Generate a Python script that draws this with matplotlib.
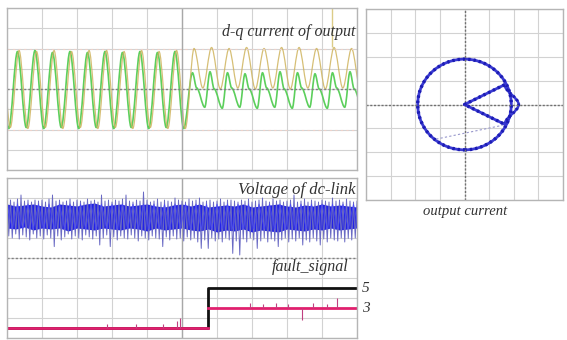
import numpy as np
import matplotlib
matplotlib.use("Agg")
import matplotlib.pyplot as plt
from matplotlib.path import Path
from matplotlib.patches import PathPatch, Circle
import matplotlib.transforms as mtransforms

# ---------------- data (in scope divisions) ----------------
# top panel: key extreme points of the d-q currents (times at -0.2 + 0.25*i)
yellow_vals = [1.85, -1.9, 1.9, -1.95, 1.85, -1.9, 1.9, -1.95, 1.85, -1.9, 1.9,
               -1.95, 1.9, -1.9, 1.85, -1.95, 1.9, -1.9, 1.85, -1.95, 1.9, -1.95,
               2.0, 0.05, 2.05, 0.0, 2.0, 0.05, 2.05, 0.0, 2.0, 0.05, 2.05, 0.0,
               2.05, 0.05, 2.0, 0.0, 2.05, 0.05, 2.0, 0.0]
green_pre_vals = [1.8, -1.95, 1.85, -1.9, 1.9, -1.95, 1.8, -1.9, 1.85, -1.95, 1.8,
                  -1.9, 1.85, -1.95, 1.8, -1.9, 1.85, -1.95, 1.8, -1.9, 1.85, -1.95]
green_post_peaks = [0.8, 0.85, 0.8, 0.75, 0.8, 0.85, 0.8, 0.75, 0.8, 0.85]
green_post_shoulders = [0.05, 0.0, 0.05, 0.0, 0.05, 0.0, 0.05, 0.0, 0.05, 0.0]
green_post_troughs = [-0.9, -0.95, -0.9, -0.95, -0.9, -0.95, -0.9, -0.95, -0.9, -0.95]
yellow_spike = (9.28, 2.05, 4.0)

# bottom panel: dc-link voltage band and fringe
core_top = [6.7, 6.6, 6.65, 6.7, 6.6, 6.55, 6.7, 6.65, 6.6, 6.7, 6.75, 6.6, 6.65, 6.7,
            6.6, 6.65, 6.7, 6.6, 6.55, 6.65, 6.7, 6.6, 6.7, 6.55, 6.6, 6.65, 6.6, 6.7,
            6.55, 6.6, 6.65, 6.7, 6.6, 6.55, 6.65, 6.6, 6.7, 6.6, 6.65, 6.6, 6.55]
core_bot = [5.5, 5.45, 5.55, 5.4, 5.5, 5.45, 5.5, 5.35, 5.5, 5.45, 5.4, 5.5, 5.45, 5.4,
            5.5, 5.45, 5.35, 5.5, 5.4, 5.45, 5.5, 5.4, 5.35, 5.45, 5.3, 5.4, 5.35, 5.45,
            5.3, 5.4, 5.35, 5.3, 5.45, 5.4, 5.35, 5.45, 5.4, 5.5, 5.4, 5.45, 5.5]
fringe_hi = [6.85, 6.9, 6.8, 6.95, 7.15, 6.85, 6.9, 6.8, 6.9, 6.85,
             6.9, 6.8, 6.95, 7.15, 6.85, 6.9, 6.8, 6.85, 6.95, 6.8,
             6.9, 6.85, 6.8, 6.95, 6.85, 6.9, 6.8, 7.15, 6.85, 6.9,
             6.8, 6.9, 6.85, 6.95, 7.15, 6.85, 6.8, 6.9, 6.85, 7.3,
             6.9, 6.8, 6.85, 6.95, 6.8, 6.9, 6.85, 6.8, 7.0, 6.9,
             6.85, 6.8, 6.95, 6.85, 6.9, 7.0, 6.8, 6.85, 6.9, 6.8,
             6.85, 6.95, 6.8, 6.9, 6.9, 6.85, 6.8, 6.9, 6.85, 6.95,
             6.8, 6.85, 6.9, 7.0, 6.85, 6.8, 6.95, 6.85, 6.9, 6.8,
             6.85, 6.9, 7.15, 6.8, 6.85, 6.95, 6.8, 6.9, 6.85, 6.8,
             6.9, 6.85, 6.8, 7.0, 6.85, 6.9, 6.8, 6.95, 6.85, 6.8, 6.85]
fringe_lo = [5.1, 5.0, 5.2, 4.95, 5.15, 5.05, 4.9, 5.2, 5.0, 5.1,
             4.95, 5.15, 5.0, 4.57, 5.1, 4.9, 5.05, 5.2, 4.95, 5.1,
             5.0, 4.9, 5.15, 5.05, 4.95, 5.1, 4.65, 5.0, 5.15, 4.57,
             5.05, 4.9, 5.1, 5.0, 4.95, 5.15, 5.0, 4.85, 5.1, 5.0,
             4.9, 5.1, 5.0, 4.95, 4.57, 5.05, 4.9, 5.1, 4.95, 5.0,
             4.85, 5.05, 4.9, 5.0, 4.8, 4.48, 4.9, 4.48, 5.0, 4.85,
             4.95, 4.8, 5.0, 4.9, 4.23, 4.85, 4.15, 4.95, 4.8, 5.0,
             4.9, 4.48, 4.85, 5.0, 4.8, 4.95, 4.85, 4.57, 4.9, 5.0,
             4.8, 4.95, 4.85, 5.0, 4.65, 4.9, 4.8, 5.0, 4.85, 4.65,
             4.95, 4.8, 5.0, 4.9, 4.85, 5.0, 4.8, 4.98, 4.9, 5.0, 4.95]

# bottom panel: fault signals
fault_time = 5.74
black_levels = [0.5, 2.5]
pink_levels = [0.5, 1.5]
pink_spike_t = [2.85, 3.7, 4.47, 4.85, 4.94, 6.94, 7.31, 7.7, 8.03, 8.42, 8.74, 9.13, 9.42]
pink_spike_v = [0.7, 0.7, 0.7, 0.85, 0.98, 1.75, 1.72, 1.75, 1.72, 0.9, 1.75, 1.72, 2.0]
level_labels = ["5", "3"]

# right panel: output current trajectory
circle_radius = 1.9
bulge_x = [1.63, 2.2, 1.63]
bulge_y = [0.83, 0.0, -0.83]
wedge_x = [1.63, 0.0, 1.63]
wedge_y = [0.83, 0.0, -0.83]
faint_x = [-1.15, 1.55]
faint_y = [-1.45, -0.87]

# ---------------- figure ----------------
W, H = 567, 340
fig = plt.figure(figsize=(W / 100, H / 100), dpi=100)
fig.patch.set_facecolor("white")

def px_axes(x0, y0, x1, y1):
    return fig.add_axes([x0 / W, 1 - y1 / H, (x1 - x0) / W, (y1 - y0) / H])

ax_top = px_axes(7, 8, 357, 170)
ax_bot = px_axes(7, 178, 357, 338)
ax_xy = px_axes(366, 9, 563, 200)

GRID = "#d2d2d2"
FRAME = "#b5b5b5"
TXT = "#333333"
serif = dict(family=["Liberation Serif", "DejaVu Serif"], style="italic", color=TXT)

def scope(ax, xr, yr, nx, ny):
    ax.set_xlim(*xr)
    ax.set_ylim(*yr)
    ax.set_xticks(np.linspace(xr[0], xr[1], nx + 1))
    ax.set_yticks(np.linspace(yr[0], yr[1], ny + 1))
    ax.tick_params(length=0, labelbottom=False, labelleft=False)
    ax.grid(True, color=GRID, lw=0.8)
    ax.set_axisbelow(True)
    for s in ax.spines.values():
        s.set_color(FRAME)
        s.set_linewidth(1.0)

def smooth_path(ts, vs, swap=False):
    pts = [(ts[0], vs[0])]
    codes = [Path.MOVETO]
    for i in range(len(ts) - 1):
        t0, v0, t1, v1 = ts[i], vs[i], ts[i + 1], vs[i + 1]
        d = (t1 - t0) / 3.0
        pts += [(t0 + d, v0), (t1 - d, v1), (t1, v1)]
        codes += [Path.CURVE4] * 3
    if swap:
        pts = [(b, a) for a, b in pts]
    return Path(pts, codes)

# ---- top panel ----
scope(ax_top, (0, 10), (-4, 4), 10, 8)
ax_top.axhline(0, color="#808080", lw=1.0, ls=(0, (1.5, 1.5)))
for yv in (2, -2):
    ax_top.axhline(yv, color="#ecd0c8", lw=0.8, ls=(0, (2, 3)))
ax_top.axvline(5, color="#a8a8a8", lw=1.0)

y_times = [-0.2 + 0.25 * i for i in range(len(yellow_vals))]
g_t = y_times[:len(green_pre_vals)]
g_v = list(green_pre_vals)
for k in range(len(green_post_peaks)):
    base = 5.3 + 0.5 * k
    g_t += [base, base + 0.12, base + 0.35]
    g_v += [green_post_peaks[k], green_post_shoulders[k], green_post_troughs[k]]
ax_top.add_patch(PathPatch(smooth_path(g_t, g_v), fill=False, edgecolor="#5ccf5c", lw=1.2))
ax_top.add_patch(PathPatch(smooth_path([t + 0.045 for t in y_times], yellow_vals),
                           fill=False, edgecolor="#cfb45e", lw=0.9, alpha=0.85))
ax_top.vlines(yellow_spike[0], yellow_spike[1], yellow_spike[2], color="#dccc88", lw=1.0)

ax_top.text(9.97, 2.8, "d-q current of output", ha="right", va="center", fontsize=11.5, **serif)

# ---- bottom panel ----
scope(ax_bot, (0, 10), (0, 8), 10, 8)
ax_bot.axhline(4, color="#808080", lw=1.0, ls=(0, (1.5, 1.5)))
ax_bot.axvline(5, color="#a8a8a8", lw=1.0)

f_t = np.linspace(0, 10, len(fringe_hi))
zz_t, zz_v = [], []
for i in range(len(f_t)):
    zz_t += [f_t[i], f_t[i] + 0.05]
    zz_v += [fringe_hi[i], fringe_lo[i]]
ax_bot.plot(zz_t, zz_v, color="#6a6ac4", lw=0.7)
c_t = np.linspace(0, 10, len(core_top))
ax_bot.fill_between(c_t, core_bot, core_top, color="#2222e4", lw=0)
ax_bot.plot(zz_t[::3], [min(max(v, 5.45), 6.7) for v in zz_v[::3]],
            color="#4a4af5", lw=0.5)

ax_bot.step([0, fault_time, 10], [black_levels[0], black_levels[1], black_levels[1]],
            where="post", color="#111111", lw=2.0)
ax_bot.plot([0, fault_time], [pink_levels[0]] * 2, color="#e0206e", lw=2.0)
ax_bot.plot([fault_time, 10], [pink_levels[1]] * 2, color="#e0206e", lw=2.0)
for t, v in zip(pink_spike_t, pink_spike_v):
    base = pink_levels[0] if t < fault_time else pink_levels[1]
    ax_bot.vlines(t, base, v, color="#c04080", lw=0.8)

ax_bot.text(9.97, 7.4, "Voltage of dc-link", ha="right", va="center", fontsize=12, **serif)
ax_bot.text(9.75, 3.55, "fault_signal", ha="right", va="center", fontsize=11.5, **serif)
trans = mtransforms.blended_transform_factory(ax_bot.transAxes, ax_bot.transData)
for lab, lv in zip(level_labels, [black_levels[1], pink_levels[1]]):
    ax_bot.text(1.015, lv, lab, transform=trans, ha="left", va="center",
                fontsize=11, clip_on=False, **serif)

# ---- right panel ----
scope(ax_xy, (-4, 4), (-4, 4), 8, 8)
ax_xy.axhline(0, color="#707070", lw=1.0, ls=(0, (1.5, 1.2)))
ax_xy.axvline(0, color="#707070", lw=1.0, ls=(0, (1.5, 1.2)))
BLUE = "#3a3ad2"
DOT = "#1c1cb4"
ax_xy.plot(faint_x, faint_y, color="#9898cc", lw=0.8, ls=(0, (2, 2)))
for col, lw, ls in [(BLUE, 2.0, "-"), (DOT, 2.4, (0, (0.7, 0.9)))]:
    ax_xy.add_patch(Circle((0, 0), circle_radius, fill=False, edgecolor=col, lw=lw, ls=ls))
    ax_xy.add_patch(PathPatch(smooth_path(bulge_y, bulge_x, swap=True), fill=False,
                              edgecolor=col, lw=lw * 0.9, ls=ls))
    ax_xy.plot(wedge_x, wedge_y, color=col, lw=lw, ls=ls)

fig.text(465 / W, 1 - 212 / H, "output current", ha="center", va="center",
         fontsize=10.5, **serif)

fig.savefig("out.png", dpi=100, facecolor="white")
